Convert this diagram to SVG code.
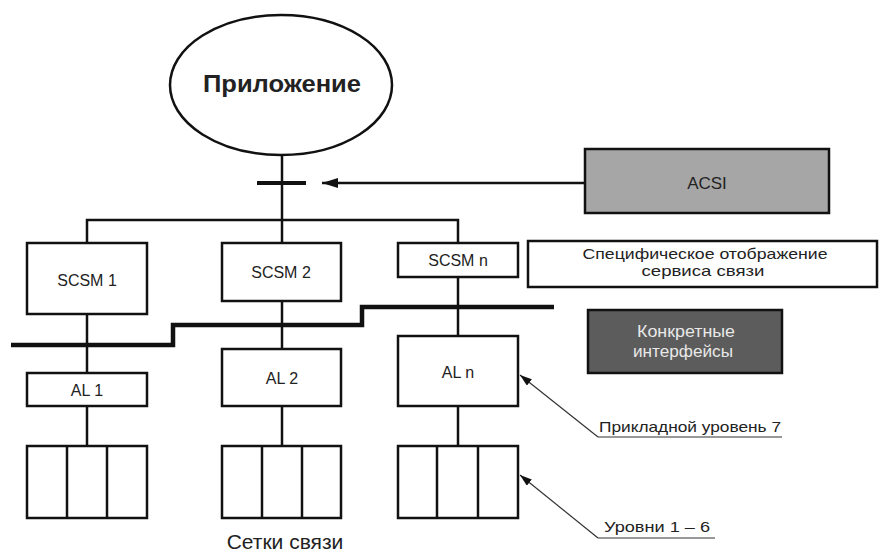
<svg xmlns="http://www.w3.org/2000/svg" width="882" height="552" viewBox="0 0 882 552">
<defs>
<style>
.box{fill:#fff;stroke:#111;stroke-width:2.5}
.ln{fill:none;stroke:#111;stroke-width:2.5}
.thin{fill:none;stroke:#333;stroke-width:1.2}
.t{font-family:"Liberation Sans",Arial,sans-serif;fill:#222;text-anchor:middle}
.s16{font-size:16px}
.s15{font-size:15px}
</style>
<marker id="ah" viewBox="0 0 16 10" refX="0" refY="5" markerWidth="16" markerHeight="10" markerUnits="userSpaceOnUse" orient="auto">
<path d="M0,5 L16,0 L16,10 Z" fill="#111"/>
</marker>
<marker id="ah2" viewBox="0 0 12 8" refX="12" refY="4" markerWidth="12" markerHeight="8" markerUnits="userSpaceOnUse" orient="auto">
<path d="M12,4 L0,0 L0,8 Z" fill="#111"/>
</marker>
</defs>
<rect width="882" height="552" fill="#fff"/>

<g id="connectors">
<line class="ln" x1="282" y1="155" x2="282" y2="220"/>
<line x1="257" y1="183" x2="306" y2="183" stroke="#111" stroke-width="4"/>
<line class="ln" x1="322" y1="183" x2="585" y2="183" marker-start="url(#ah)" stroke-width="2"/>
<polyline class="ln" points="87,243 87,220 458,220 458,243"/>
<line class="ln" x1="282" y1="220" x2="282" y2="243"/>
<line class="ln" x1="87" y1="314" x2="87" y2="373"/>
<line class="ln" x1="282" y1="301" x2="282" y2="349"/>
<line class="ln" x1="458" y1="277" x2="458" y2="336"/>
<line class="ln" x1="87" y1="406" x2="87" y2="446"/>
<line class="ln" x1="282" y1="406" x2="282" y2="446"/>
<line class="ln" x1="458" y1="406" x2="458" y2="446"/>
<polyline points="11,345 173,345 173,325 362,325 362,307 554,307" fill="none" stroke="#111" stroke-width="4.5"/>
<polyline class="thin" points="598,437 520,375" marker-end="url(#ah2)"/>
<line class="thin" x1="598" y1="437" x2="782" y2="437"/>
<polyline class="thin" points="598,538 520,475" marker-end="url(#ah2)"/>
<line class="thin" x1="598" y1="538" x2="715" y2="538"/>
</g>

<g id="app">
<ellipse cx="281" cy="85" rx="111" ry="70" class="box" stroke-width="2.5"/>
<text class="t" x="282" y="92" font-size="23" font-weight="bold" textLength="158" lengthAdjust="spacingAndGlyphs">Приложение</text>
</g>

<g id="acsi">
<rect x="585" y="149" width="244" height="64" fill="#a6a6a6" stroke="#111" stroke-width="2.5"/>
<text class="t" x="707" y="189" font-size="17">ACSI</text>
</g>

<g id="scsm-map">
<rect x="528" y="241" width="349" height="46" class="box"/>
<text class="t s15" x="705" y="259" textLength="245" lengthAdjust="spacingAndGlyphs">Специфическое отображение</text>
<text class="t s15" x="703" y="276" textLength="123" lengthAdjust="spacingAndGlyphs">сервиса связи</text>
</g>

<g id="concrete">
<rect x="588" y="310" width="194" height="63" fill="#5c5c5c" stroke="#111" stroke-width="2.5"/>
<text class="t s16" x="686" y="337" style="fill:#e8e8e8" textLength="98" lengthAdjust="spacingAndGlyphs">Конкретные</text>
<text class="t s16" x="683" y="357" style="fill:#e8e8e8" textLength="100" lengthAdjust="spacingAndGlyphs">интерфейсы</text>
</g>

<g id="scsm1">
<rect x="27" y="243" width="120" height="71" class="box"/>
<text class="t s16" x="87" y="286">SCSM 1</text>
</g>
<g id="scsm2">
<rect x="222" y="243" width="119" height="58" class="box"/>
<text class="t s16" x="281" y="278">SCSM 2</text>
</g>
<g id="scsmn">
<rect x="398" y="243" width="120" height="34" class="box"/>
<text class="t s16" x="458" y="266">SCSM n</text>
</g>

<g id="al1">
<rect x="27" y="373" width="120" height="33" class="box"/>
<text class="t s16" x="87" y="396">AL 1</text>
</g>
<g id="al2">
<rect x="222" y="349" width="119" height="57" class="box"/>
<text class="t s16" x="282" y="384">AL 2</text>
</g>
<g id="aln">
<rect x="398" y="336" width="120" height="70" class="box"/>
<text class="t s16" x="458" y="378">AL n</text>
</g>

<g id="stack1">
<rect x="27" y="446" width="120" height="72" class="box"/>
<line class="ln" x1="67" y1="446" x2="67" y2="518"/>
<line class="ln" x1="107" y1="446" x2="107" y2="518"/>
</g>
<g id="stack2">
<rect x="222" y="446" width="119" height="72" class="box"/>
<line class="ln" x1="262" y1="446" x2="262" y2="518"/>
<line class="ln" x1="302" y1="446" x2="302" y2="518"/>
</g>
<g id="stackn">
<rect x="398" y="446" width="120" height="72" class="box"/>
<line class="ln" x1="437" y1="446" x2="437" y2="518"/>
<line class="ln" x1="478" y1="446" x2="478" y2="518"/>
</g>

<g id="labels">
<text class="t" x="285" y="549" font-size="21">Сетки связи</text>
<text class="t s15" x="690" y="432" textLength="182" lengthAdjust="spacingAndGlyphs">Прикладной уровень 7</text>
<text class="t s15" x="657" y="532" textLength="106" lengthAdjust="spacingAndGlyphs">Уровни 1 – 6</text>
</g>
</svg>
